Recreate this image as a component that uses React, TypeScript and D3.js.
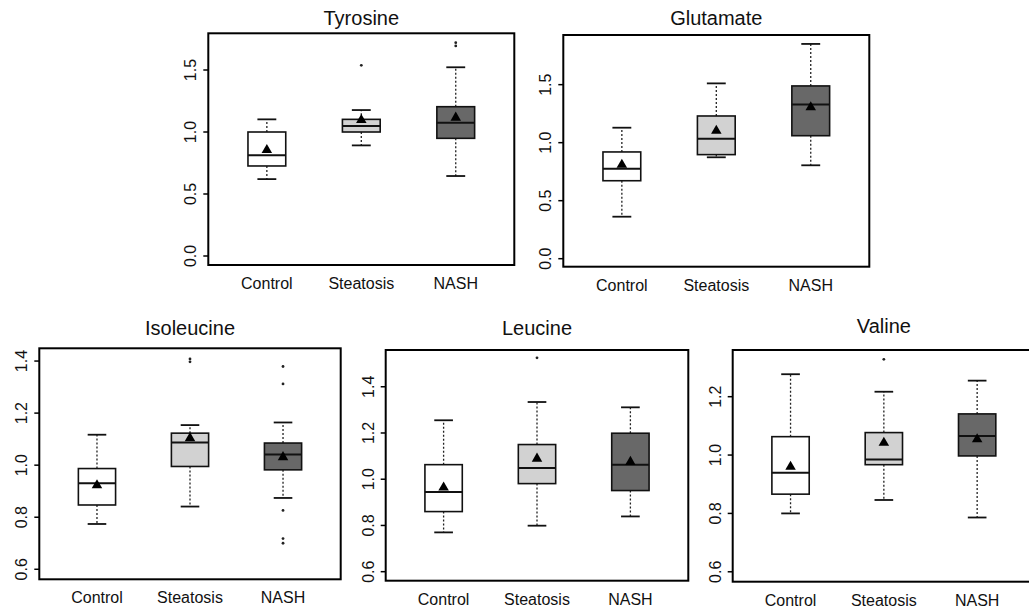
import React from "react";
import * as d3 from "d3";

// ---- data ----
const groups = ["Control", "Steatosis", "NASH"];
const fills = ["#ffffff", "#d2d2d2", "#686868"];

// each row: [whiskerLow, q1, median, q3, whiskerHigh, mean]
const tyrosineStats = [
  [0.62, 0.726, 0.812, 1.0, 1.102, 0.855],
  [0.892, 1.0, 1.048, 1.102, 1.177, 1.097],
  [0.645, 0.949, 1.075, 1.204, 1.522, 1.116],
];
const tyrosineOutliers = [[], [1.538], [1.694, 1.72]];
const tyrosineTicks = [0, 0.5, 1.0, 1.5];

const glutamateStats = [
  [0.362, 0.672, 0.776, 0.92, 1.129, 0.81],
  [0.874, 0.897, 1.034, 1.23, 1.511, 1.103],
  [0.805, 1.06, 1.328, 1.489, 1.851, 1.305],
];
const glutamateOutliers = [[], [], []];
const glutamateTicks = [0, 0.5, 1.0, 1.5];

const isoleucineStats = [
  [0.774, 0.847, 0.931, 0.987, 1.117, 0.923],
  [0.841, 0.995, 1.087, 1.123, 1.154, 1.104],
  [0.874, 0.982, 1.041, 1.085, 1.164, 1.031],
];
const isoleucineOutliers = [[], [1.397, 1.408], [1.379, 1.312, 0.826, 0.718, 0.7]];
const isoleucineTicks = [0.6, 0.8, 1.0, 1.2, 1.4];

const leucineStats = [
  [0.77, 0.86, 0.945, 1.063, 1.255, 0.964],
  [0.799, 0.981, 1.049, 1.15, 1.334, 1.089],
  [0.839, 0.951, 1.063, 1.199, 1.311, 1.075],
];
const leucineOutliers = [[], [1.525], []];
const leucineTicks = [0.6, 0.8, 1.0, 1.2, 1.4];

const valineStats = [
  [0.8, 0.866, 0.939, 1.063, 1.277, 0.96],
  [0.846, 0.967, 0.985, 1.077, 1.217, 1.042],
  [0.786, 0.997, 1.065, 1.141, 1.255, 1.054],
];
const valineOutliers = [[], [1.328], []];
const valineTicks = [0.6, 0.8, 1.0, 1.2];

// ---- layout ----
const panels = [
  { title: "Tyrosine", stats: tyrosineStats, outliers: tyrosineOutliers, ticks: tyrosineTicks,
    domain: [-0.0726, 1.796], left: 208.3, right: 514.3, top: 33.3, bottom: 265, titleY: 25 },
  { title: "Glutamate", stats: glutamateStats, outliers: glutamateOutliers, ticks: glutamateTicks,
    domain: [-0.069, 1.928], left: 563.3, right: 869.3, top: 35, bottom: 266.7, titleY: 25 },
  { title: "Isoleucine", stats: isoleucineStats, outliers: isoleucineOutliers, ticks: isoleucineTicks,
    domain: [0.5615, 1.449], left: 39.3, right: 340.7, top: 348.3, bottom: 579.3, titleY: 335 },
  { title: "Leucine", stats: leucineStats, outliers: leucineOutliers, ticks: leucineTicks,
    domain: [0.561, 1.559], left: 385.7, right: 688.3, top: 350, bottom: 580.7, titleY: 335 },
  { title: "Valine", stats: valineStats, outliers: valineOutliers, ticks: valineTicks,
    domain: [0.566, 1.36], left: 732.7, right: 1035, top: 350, bottom: 581.7, titleY: 333 },
];

const FONT = "'Liberation Sans', Arial, Helvetica, sans-serif";
const fmt = d3.format(".1f");
const tri = d3.symbol(d3.symbolTriangle, 48)();

function Panel({ p }: { p: any }) {
  const x = d3.scaleLinear().domain([0.38, 3.62]).range([p.left, p.right]);
  const y = d3.scaleLinear().domain(p.domain).range([p.bottom, p.top]);
  const unit = x(1) - x(0);
  const bw = 0.4 * unit;
  const cw = bw / 2;
  return (
    <g>
      <text x={(p.left + p.right) / 2} y={p.titleY} textAnchor="middle" fontSize={20} fontFamily={FONT} fill="#111">
        {p.title}
      </text>
      {p.stats.map((s: number[], i: number) => {
        const cx = x(i + 1);
        const [lo, q1, md, q3, hi, mean] = s;
        return (
          <g key={i}>
            <line x1={cx} x2={cx} y1={y(q3)} y2={y(hi)} stroke="#222" strokeWidth={1.3} strokeDasharray="2,2" />
            <line x1={cx} x2={cx} y1={y(q1)} y2={y(lo)} stroke="#222" strokeWidth={1.3} strokeDasharray="2,2" />
            <line x1={cx - cw / 2} x2={cx + cw / 2} y1={y(hi)} y2={y(hi)} stroke="#111" strokeWidth={1.8} />
            <line x1={cx - cw / 2} x2={cx + cw / 2} y1={y(lo)} y2={y(lo)} stroke="#111" strokeWidth={1.8} />
            <rect x={cx - bw / 2} y={y(q3)} width={bw} height={y(q1) - y(q3)} fill={fills[i]} stroke="#111" strokeWidth={1.6} />
            <line x1={cx - bw / 2} x2={cx + bw / 2} y1={y(md)} y2={y(md)} stroke="#111" strokeWidth={2} />
            <path d={tri as string} transform={`translate(${cx},${y(mean)})`} fill="#000" />
            {p.outliers[i].map((o: number, j: number) => (
              <circle key={j} cx={cx} cy={y(o)} r={1.4} fill="#222" />
            ))}
          </g>
        );
      })}
      <rect x={p.left} y={p.top} width={p.right - p.left} height={p.bottom - p.top} fill="none" stroke="#000" strokeWidth={2} />
      {p.ticks.map((t: number, i: number) => (
        <g key={i}>
          <line x1={p.left - 5} x2={p.left} y1={y(t)} y2={y(t)} stroke="#000" strokeWidth={1.5} />
          <text transform={`translate(${p.left - 12},${y(t)}) rotate(-90)`} textAnchor="middle" fontSize={16} fontFamily={FONT} fill="#111">
            {fmt(t)}
          </text>
        </g>
      ))}
      {groups.map((g, i) => (
        <text key={g} x={x(i + 1)} y={p.bottom + 24} textAnchor="middle" fontSize={16} fontFamily={FONT} fill="#111">
          {g}
        </text>
      ))}
    </g>
  );
}

export default function App() {
  return (
    <svg width={1029} height={612} style={{ position: "absolute", left: 0, top: 0, background: "#fff" }}>
      <rect x={0} y={0} width={1029} height={612} fill="#fff" />
      {panels.map((p) => (
        <Panel key={p.title} p={p} />
      ))}
    </svg>
  );
}
